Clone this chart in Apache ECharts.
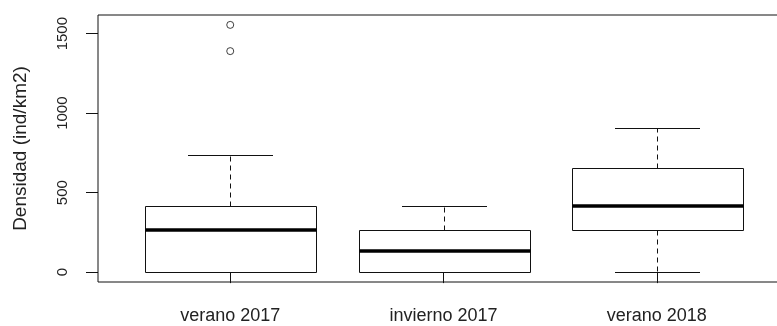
<!DOCTYPE html>
<html>
<head>
<meta charset="utf-8">
<script src="https://cdn.jsdelivr.net/npm/echarts@6/dist/echarts.min.js"></script>
<style>
  html, body { margin: 0; padding: 0; background: #fff; }
  #chart { width: 777px; height: 326px; }
</style>
</head>
<body>
<div id="chart"></div>
<script>
// Season groups and their five-number summaries (ind/km2)
const categories = ['verano 2017', 'invierno 2017', 'verano 2018'];
const lowWhisker = [0, 0, 0];
const q1 = [0, 0, 263];
const median = [263, 130, 414];
const q3 = [414, 263, 653];
const highWhisker = [737, 414, 904];

// Points beyond the whiskers: group position (1-based) and value
const outlierGroup = [1, 1];
const outlierValue = [1390, 1555];

const yTicks = [0, 500, 1000, 1500];
const xTicks = categories.map((_, i) => i + 1);

// Axis ranges padded by 4% like a base-graphics plot
const dataMax = Math.max(...highWhisker, ...outlierValue);
const dataMin = Math.min(...lowWhisker);
const pad = (dataMax - dataMin) * 0.04;
const yMin = dataMin - pad;
const yMax = dataMax + pad;
const xMin = 0.5 - 0.12;
const xMax = categories.length + 0.5 + 0.12;

const boxData = categories.map((_, i) => [i + 1, lowWhisker[i], q1[i], median[i], q3[i], highWhisker[i]]);
const outlierData = outlierGroup.map((g, i) => [g, outlierValue[i]]);

const crisp = v => Math.round(v) + 0.5;
const INK = '#111';

function renderBox(params, api) {
  const x = api.value(0);
  const pLo = api.coord([x, api.value(1)]);
  const pQ1 = api.coord([x, api.value(2)]);
  const pMed = api.coord([x, api.value(3)]);
  const pQ3 = api.coord([x, api.value(4)]);
  const pHi = api.coord([x, api.value(5)]);
  const halfW = api.size([0.8, 0])[0] / 2;
  const capHalf = halfW / 2;
  const cx = crisp(pMed[0]);
  const solid = { stroke: INK, lineWidth: 1, fill: null };
  const dashed = { stroke: INK, lineWidth: 1, lineDash: [5, 4], fill: null };
  const children = [];
  // whiskers
  if (pHi[1] < pQ3[1]) {
    children.push({ type: 'line', shape: { x1: cx, y1: crisp(pQ3[1]), x2: cx, y2: crisp(pHi[1]) }, style: dashed });
  }
  if (pLo[1] > pQ1[1]) {
    children.push({ type: 'line', shape: { x1: cx, y1: crisp(pQ1[1]), x2: cx, y2: crisp(pLo[1]) }, style: dashed });
  }
  // staples
  children.push({ type: 'line', shape: { x1: Math.round(cx - capHalf), y1: crisp(pHi[1]), x2: Math.round(cx + capHalf), y2: crisp(pHi[1]) }, style: solid });
  children.push({ type: 'line', shape: { x1: Math.round(cx - capHalf), y1: crisp(pLo[1]), x2: Math.round(cx + capHalf), y2: crisp(pLo[1]) }, style: solid });
  // box
  const left = crisp(cx - halfW);
  const right = crisp(cx + halfW);
  const top = crisp(pQ3[1]);
  const bottom = crisp(pQ1[1]);
  children.push({ type: 'rect', shape: { x: left, y: top, width: right - left, height: bottom - top }, style: { stroke: INK, lineWidth: 1, fill: '#fff' } });
  // median
  const my = Math.round(pMed[1]);
  children.push({ type: 'line', shape: { x1: left, y1: my, x2: right, y2: my }, style: { stroke: '#000', lineWidth: 3.4 } });
  return { type: 'group', children };
}

const chart = echarts.init(document.getElementById('chart'), null, { renderer: 'canvas' });
chart.setOption({
  animation: false,
  backgroundColor: '#fff',
  textStyle: { fontFamily: 'Liberation Sans, Arial, sans-serif' },
  grid: {
    left: 98, top: 15, width: 691, height: 267,
    outerBoundsMode: 'none', containLabel: false,
    show: true, borderColor: INK, borderWidth: 1, backgroundColor: 'transparent'
  },
  xAxis: {
    type: 'value', min: xMin, max: xMax,
    axisLine: { show: false },
    splitLine: { show: false },
    axisTick: { show: true, customValues: xTicks, length: 11, lineStyle: { color: INK } },
    axisLabel: {
      customValues: xTicks, margin: 25, fontSize: 18, color: '#222',
      formatter: v => categories[Math.round(v) - 1]
    }
  },
  yAxis: {
    type: 'value', min: yMin, max: yMax,
    name: 'Densidad (ind/km2)', nameLocation: 'middle', nameRotate: 90, nameGap: 68,
    nameTextStyle: { fontSize: 19, color: '#222' },
    axisLine: { show: false },
    splitLine: { show: false },
    axisTick: { show: true, customValues: yTicks, length: 12, lineStyle: { color: INK } },
    axisLabel: {
      customValues: yTicks, rotate: 90, margin: 28, fontSize: 15, color: '#222',
      formatter: v => String(Math.round(v))
    }
  },
  series: [
    {
      type: 'custom',
      renderItem: renderBox,
      data: boxData,
      encode: { x: 0, y: [1, 2, 3, 4, 5] },
      clip: false
    },
    {
      type: 'scatter',
      data: outlierData,
      symbol: 'circle',
      symbolSize: 7,
      itemStyle: { color: 'rgba(0,0,0,0)', borderColor: INK, borderWidth: 1 }
    }
  ]
});
</script>
</body>
</html>
